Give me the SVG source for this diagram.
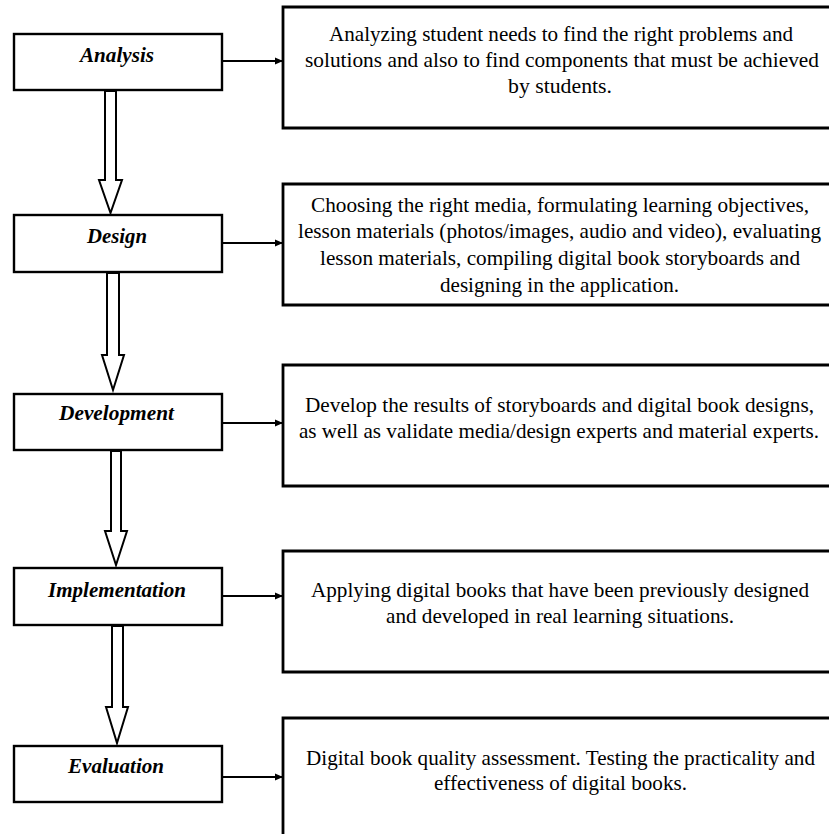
<svg xmlns="http://www.w3.org/2000/svg" width="829" height="834" viewBox="0 0 829 834">
<defs>
<marker id="ah" markerWidth="8" markerHeight="8" refX="8" refY="4" orient="auto" markerUnits="userSpaceOnUse">
<path d="M0,0.5 L8,4 L0,7.5 Z" fill="#000"/>
</marker>
<style>
.step{fill:#fff;stroke:#000;stroke-width:2.4}
.desc{fill:#fff;stroke:#000;stroke-width:2.8}
.lbl{font-family:"Liberation Serif","Times New Roman",serif;font-size:21px;font-weight:bold;font-style:italic;fill:#000}
.txt{font-family:"Liberation Serif","Times New Roman",serif;font-size:21px;fill:#000}
.link{stroke:#000;stroke-width:2;fill:none;marker-end:url(#ah)}
.flow{fill:#fff;stroke:#000;stroke-width:2;stroke-linejoin:miter}
</style>
</defs>
<rect width="829" height="834" fill="#fff"/>

<g id="connectors">
<line class="link" x1="223" y1="61" x2="283" y2="61"/>
<line class="link" x1="223" y1="243" x2="283" y2="243"/>
<line class="link" x1="223" y1="423" x2="283" y2="423"/>
<line class="link" x1="223" y1="596" x2="283" y2="596"/>
<line class="link" x1="223" y1="777" x2="283" y2="777"/>
<polygon class="flow" points="105,91 116,91 116,180 122,180 110.5,213 99,180 105,180"/>
<polygon class="flow" points="107,273 119,273 119,355 124,355 113,390 102,355 107,355"/>
<polygon class="flow" points="111,451 121,451 121,531 127,531 116,565 105,531 111,531"/>
<polygon class="flow" points="112,626 123,626 123,707 128,707 117,743 106,707 112,707"/>
</g>

<g id="analysis">
<rect class="step" x="14" y="34" width="208" height="56"/>
<text class="lbl" x="80" y="62" textLength="74" lengthAdjust="spacingAndGlyphs">Analysis</text>
</g>
<g id="analysis-desc">
<path class="desc" d="M829,7 H283 V128 H829"/>
<text class="txt" x="329" y="41" textLength="464" lengthAdjust="spacingAndGlyphs">Analyzing student needs to find the right problems and</text>
<text class="txt" x="305" y="67" textLength="514" lengthAdjust="spacingAndGlyphs">solutions and also to find components that must be achieved</text>
<text class="txt" x="508" y="93" textLength="104" lengthAdjust="spacingAndGlyphs">by students.</text>
</g>

<g id="design">
<rect class="step" x="14" y="215" width="208" height="57"/>
<text class="lbl" x="87" y="243" textLength="60" lengthAdjust="spacingAndGlyphs">Design</text>
</g>
<g id="design-desc">
<path class="desc" d="M829,184 H283 V305 H829"/>
<text class="txt" x="311" y="212" textLength="498" lengthAdjust="spacingAndGlyphs">Choosing the right media, formulating learning objectives,</text>
<text class="txt" x="298" y="238" textLength="523" lengthAdjust="spacingAndGlyphs">lesson materials (photos/images, audio and video), evaluating</text>
<text class="txt" x="320" y="265" textLength="480" lengthAdjust="spacingAndGlyphs">lesson materials, compiling digital book storyboards and</text>
<text class="txt" x="440" y="292" textLength="239" lengthAdjust="spacingAndGlyphs">designing in the application.</text>
</g>

<g id="development">
<rect class="step" x="14" y="394" width="208" height="56"/>
<text class="lbl" x="59" y="420" textLength="115" lengthAdjust="spacingAndGlyphs">Development</text>
</g>
<g id="development-desc">
<path class="desc" d="M829,365 H283 V486 H829"/>
<text class="txt" x="305" y="412" textLength="509" lengthAdjust="spacingAndGlyphs">Develop the results of storyboards and digital book designs,</text>
<text class="txt" x="299" y="438" textLength="520" lengthAdjust="spacingAndGlyphs">as well as validate media/design experts and material experts.</text>
</g>

<g id="implementation">
<rect class="step" x="14" y="568" width="208" height="57"/>
<text class="lbl" x="48" y="597" textLength="138" lengthAdjust="spacingAndGlyphs">Implementation</text>
</g>
<g id="implementation-desc">
<path class="desc" d="M829,551 H283 V672 H829"/>
<text class="txt" x="311" y="597" textLength="498" lengthAdjust="spacingAndGlyphs">Applying digital books that have been previously designed</text>
<text class="txt" x="386" y="623" textLength="348" lengthAdjust="spacingAndGlyphs">and developed in real learning situations.</text>
</g>

<g id="evaluation">
<rect class="step" x="14" y="746" width="208" height="56"/>
<text class="lbl" x="68" y="773" textLength="96" lengthAdjust="spacingAndGlyphs">Evaluation</text>
</g>
<g id="evaluation-desc">
<path class="desc" d="M829,718 H283 V834"/>
<text class="txt" x="306" y="765" textLength="509" lengthAdjust="spacingAndGlyphs">Digital book quality assessment. Testing the practicality and</text>
<text class="txt" x="434" y="790" textLength="253" lengthAdjust="spacingAndGlyphs">effectiveness of digital books.</text>
</g>
</svg>
